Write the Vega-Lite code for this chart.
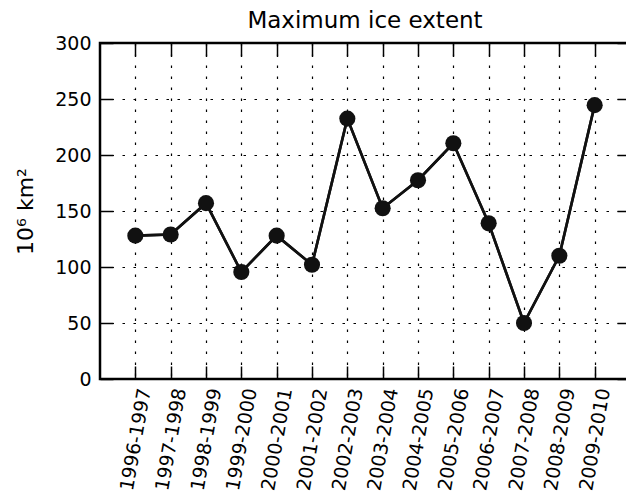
{
  "$schema": "https://vega.github.io/schema/vega-lite/v6.json",
  "autosize": "none",
  "width": 530,
  "height": 336,
  "padding": {"left": 100, "top": 43, "right": 0, "bottom": 117},
  "title": {"text": "Maximum ice extent", "fontSize": 23, "font": "DejaVu Sans", "fontWeight": "normal", "color": "#000", "offset": 1},
  "config": {
    "view": {"stroke": "#000", "strokeWidth": 2.5},
    "font": "DejaVu Sans",
    "axis": {"labelFont": "DejaVu Sans", "titleFont": "DejaVu Sans"}
  },
  "data": {"values": [
    {"season": "1996-1997", "extent": 128},
    {"season": "1997-1998", "extent": 129},
    {"season": "1998-1999", "extent": 157},
    {"season": "1999-2000", "extent": 95.5},
    {"season": "2000-2001", "extent": 128},
    {"season": "2001-2002", "extent": 102},
    {"season": "2002-2003", "extent": 232.5},
    {"season": "2003-2004", "extent": 152.5},
    {"season": "2004-2005", "extent": 177.5},
    {"season": "2005-2006", "extent": 210.5},
    {"season": "2006-2007", "extent": 139},
    {"season": "2007-2008", "extent": 50},
    {"season": "2008-2009", "extent": 110},
    {"season": "2009-2010", "extent": 244.5}
  ]},
  "layer": [
    {
      "mark": {"type": "line", "color": "#111", "strokeWidth": 2.6},
      "encoding": {
        "x": {"field": "season", "type": "ordinal", "sort": null,
          "scale": {"type": "point", "padding": 1},
          "axis": {"orient": "top", "offset": -13, "title": null, "labels": false, "domain": false, "grid": false,
            "tickSize": 13, "tickWidth": 1.5, "tickColor": "#000"}},
        "y": {"field": "extent", "type": "quantitative",
          "scale": {"domain": [0, 300], "nice": false, "zero": true},
          "axis": {"orient": "right", "offset": -13, "title": null, "labels": false, "domain": false, "grid": false,
            "values": [0, 50, 100, 150, 200, 250, 300], "tickSize": 13, "tickWidth": 1.5, "tickColor": "#000"}}
      }
    },
    {
      "mark": {"type": "line", "color": "#111", "strokeWidth": 2.6},
      "encoding": {
        "x": {"field": "season", "type": "ordinal", "sort": null,
          "axis": {"orient": "bottom", "title": null, "labelAngle": -80, "labelFontSize": 19, "labelColor": "#000",
            "ticks": false, "domain": false, "labelPadding": 9, "labelOffset": 9,
            "grid": true, "gridColor": "#000", "gridDash": [2.5, 8.5], "gridWidth": 1.2, "gridOpacity": 1}},
        "y": {"field": "extent", "type": "quantitative",
          "axis": {"orient": "left", "title": "10⁶ km²", "titleFontSize": 22, "titleFontWeight": "normal", "titleColor": "#000", "titlePadding": 17,
            "values": [0, 50, 100, 150, 200, 250, 300], "labelFontSize": 19, "labelColor": "#000",
            "ticks": false, "domain": false, "labelPadding": 9,
            "grid": true, "gridColor": "#000", "gridDash": [2.5, 8.5], "gridWidth": 1.2, "gridOpacity": 1}}
      }
    },
    {
      "mark": {"type": "circle", "color": "#111", "opacity": 1, "size": 260},
      "encoding": {
        "x": {"field": "season", "type": "ordinal", "sort": null,
          "axis": {"orient": "bottom", "offset": -13, "title": null, "labels": false, "domain": false, "grid": false,
            "tickSize": 13, "tickWidth": 1.5, "tickColor": "#000"}},
        "y": {"field": "extent", "type": "quantitative",
          "axis": {"orient": "left", "offset": -13, "title": null, "labels": false, "domain": false, "grid": false,
            "values": [0, 50, 100, 150, 200, 250, 300], "tickSize": 13, "tickWidth": 1.5, "tickColor": "#000"}}
      }
    }
  ],
  "resolve": {"axis": {"x": "independent", "y": "independent"}}
}
